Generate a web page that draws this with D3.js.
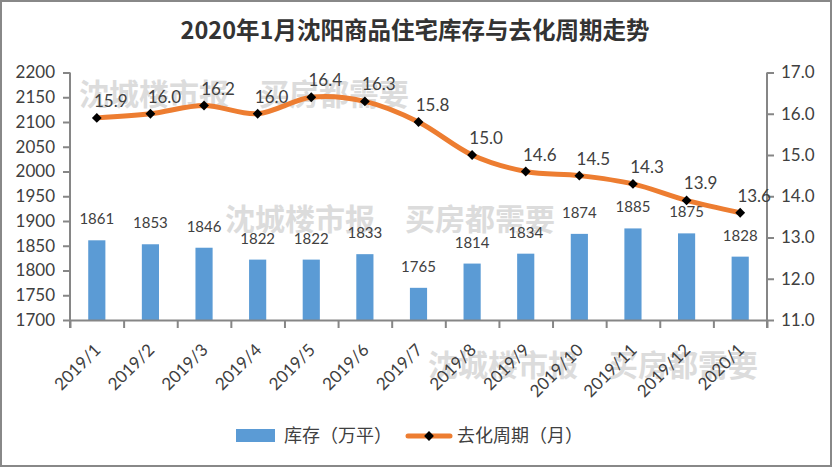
<!DOCTYPE html>
<html><head><meta charset="utf-8">
<script src="https://cdn.jsdelivr.net/npm/d3@7"></script>
<style>
body{margin:0;background:#fff;}
svg{display:block;}
</style></head>
<body>
<svg id="chart" width="832" height="467"></svg>
<script>
const categories = ["2019/1","2019/2","2019/3","2019/4","2019/5","2019/6","2019/7","2019/8","2019/9","2019/10","2019/11","2019/12","2020/1"];
const inventory = [1861,1853,1846,1822,1822,1833,1765,1814,1834,1874,1885,1875,1828];
const cycle = [15.9,16.0,16.2,16.0,16.4,16.3,15.8,15.0,14.6,14.5,14.3,13.9,13.6];
const leftTicks = [1700,1750,1800,1850,1900,1950,2000,2050,2100,2150,2200];
const rightTicks = [11,12,13,14,15,16,17];
const title = "2020年1月沈阳商品住宅库存与去化周期走势";
const seriesNames = ["库存（万平）","去化周期（月）"];
const watermark = "沈城楼市报　买房都需要";

const W = 832, H = 467;
const pLeft = 70, pRight = 767, pTop = 72.5, pBottom = 320;
const numFont = "Lato, 'Liberation Sans', sans-serif";
const cjkFont = "'Noto Sans CJK SC', sans-serif";
const textColor = "#404040";
const axisColor = "#868686";

const svg = d3.select("#chart");
svg.append("rect").attr("x",1).attr("y",1).attr("width",W-2).attr("height",H-2)
  .attr("fill","#fff").attr("stroke","#888").attr("stroke-width",2);

// watermarks
const wm = svg.append("g").attr("fill","#dcdcdc").attr("font-family",cjkFont)
  .attr("font-weight","bold").attr("font-size",30);
[[79,105],[225,230],[428,376]].forEach(p=>{
  wm.append("text").attr("x",p[0]).attr("y",p[1]).text(watermark);
});

svg.append("text").attr("x",415).attr("y",39).attr("text-anchor","middle")
  .attr("font-family",cjkFont).attr("font-weight","bold").attr("font-size",23.5)
  .attr("fill","#333").text(title);

const x = d3.scaleBand().domain(categories).range([pLeft,pRight]).padding(0);
const xi = d3.scaleLinear().domain([0,categories.length]).range([pLeft,pRight]);
const yL = d3.scaleLinear().domain([1700,2200]).range([pBottom,pTop]);
const yR = d3.scaleLinear().domain([11,17]).range([pBottom,pTop]);

// bars
const bw = x.bandwidth()*0.32;
svg.append("g").selectAll("rect").data(inventory).join("rect")
  .attr("x",(d,i)=>x(categories[i])+x.bandwidth()/2-bw/2)
  .attr("y",d=>yL(d)).attr("width",bw).attr("height",d=>yL(1700)-yL(d))
  .attr("fill","#5B9BD5");
svg.append("g").selectAll("text").data(inventory).join("text")
  .attr("x",(d,i)=>x(categories[i])+x.bandwidth()/2)
  .attr("y",d=>yL(d)-16).attr("text-anchor","middle")
  .attr("font-family",numFont).attr("font-size",15).attr("fill",textColor)
  .text(d=>d);

// axes
function styleAxis(g){
  g.selectAll(".domain").attr("stroke",axisColor).attr("stroke-width",2);
  g.selectAll(".tick line").attr("stroke",axisColor).attr("stroke-width",2);
  g.selectAll(".tick text").attr("fill",textColor).attr("font-family",numFont).attr("font-size",17);
}
const gL = svg.append("g").attr("transform",`translate(${pLeft},0)`)
  .call(d3.axisLeft(yL).tickValues(leftTicks).tickSize(7).tickSizeOuter(0).tickPadding(8).tickFormat(d3.format("d")));
styleAxis(gL);
gL.select(".domain").attr("d",`M0,${pTop}V${pBottom+8}`);
const gR = svg.append("g").attr("transform",`translate(${pRight},0)`)
  .call(d3.axisRight(yR).tickValues(rightTicks).tickSize(7).tickSizeOuter(0).tickPadding(7).tickFormat(d3.format(".1f")));
styleAxis(gR);
gR.select(".domain").attr("d",`M0,${pTop}V${pBottom+8}`);
const gX = svg.append("g").attr("transform",`translate(0,${pBottom})`)
  .call(d3.axisBottom(xi).tickValues(d3.range(categories.length+1)).tickSize(8).tickSizeOuter(0).tickFormat(""));
styleAxis(gX);

svg.append("g").selectAll("text").data(categories).join("text")
  .attr("transform",d=>`translate(${x(d)+x.bandwidth()/2+5},351) rotate(-45)`)
  .attr("text-anchor","end").attr("font-family",numFont).attr("font-size",17)
  .attr("fill",textColor).text(d=>d);

// line
const cx = i => x(categories[i])+x.bandwidth()/2;
const line = d3.line().x((d,i)=>cx(i)).y(d=>yR(d)).curve(d3.curveCardinal.tension(0));
svg.append("path").datum(cycle).attr("d",line).attr("fill","none")
  .attr("stroke","#ED7D31").attr("stroke-width",5).attr("stroke-linecap","round");
svg.append("g").selectAll("path").data(cycle).join("path")
  .attr("transform",(d,i)=>`translate(${cx(i)},${yR(d)}) rotate(45)`)
  .attr("d",d3.symbol().type(d3.symbolSquare).size(48)).attr("fill","#000");
svg.append("g").selectAll("text").data(cycle).join("text")
  .attr("x",(d,i)=>cx(i)+14).attr("y",d=>yR(d)-11).attr("text-anchor","middle")
  .attr("font-family",numFont).attr("font-size",17).attr("fill",textColor)
  .text(d=>d3.format(".1f")(d));

// legend
const lg = svg.append("g");
lg.append("rect").attr("x",236).attr("y",429).attr("width",39).attr("height",13).attr("fill","#5B9BD5");
lg.append("text").attr("x",284).attr("y",442).attr("font-family",cjkFont).attr("font-size",18)
  .attr("fill",textColor).text(seriesNames[0]);
lg.append("line").attr("x1",408).attr("x2",450).attr("y1",436).attr("y2",436)
  .attr("stroke","#ED7D31").attr("stroke-width",5).attr("stroke-linecap","round");
lg.append("path").attr("transform","translate(429,436) rotate(45)")
  .attr("d",d3.symbol().type(d3.symbolSquare).size(48)).attr("fill","#000");
lg.append("text").attr("x",457).attr("y",442).attr("font-family",cjkFont).attr("font-size",18)
  .attr("fill",textColor).text(seriesNames[1]);
</script>
</body></html>
